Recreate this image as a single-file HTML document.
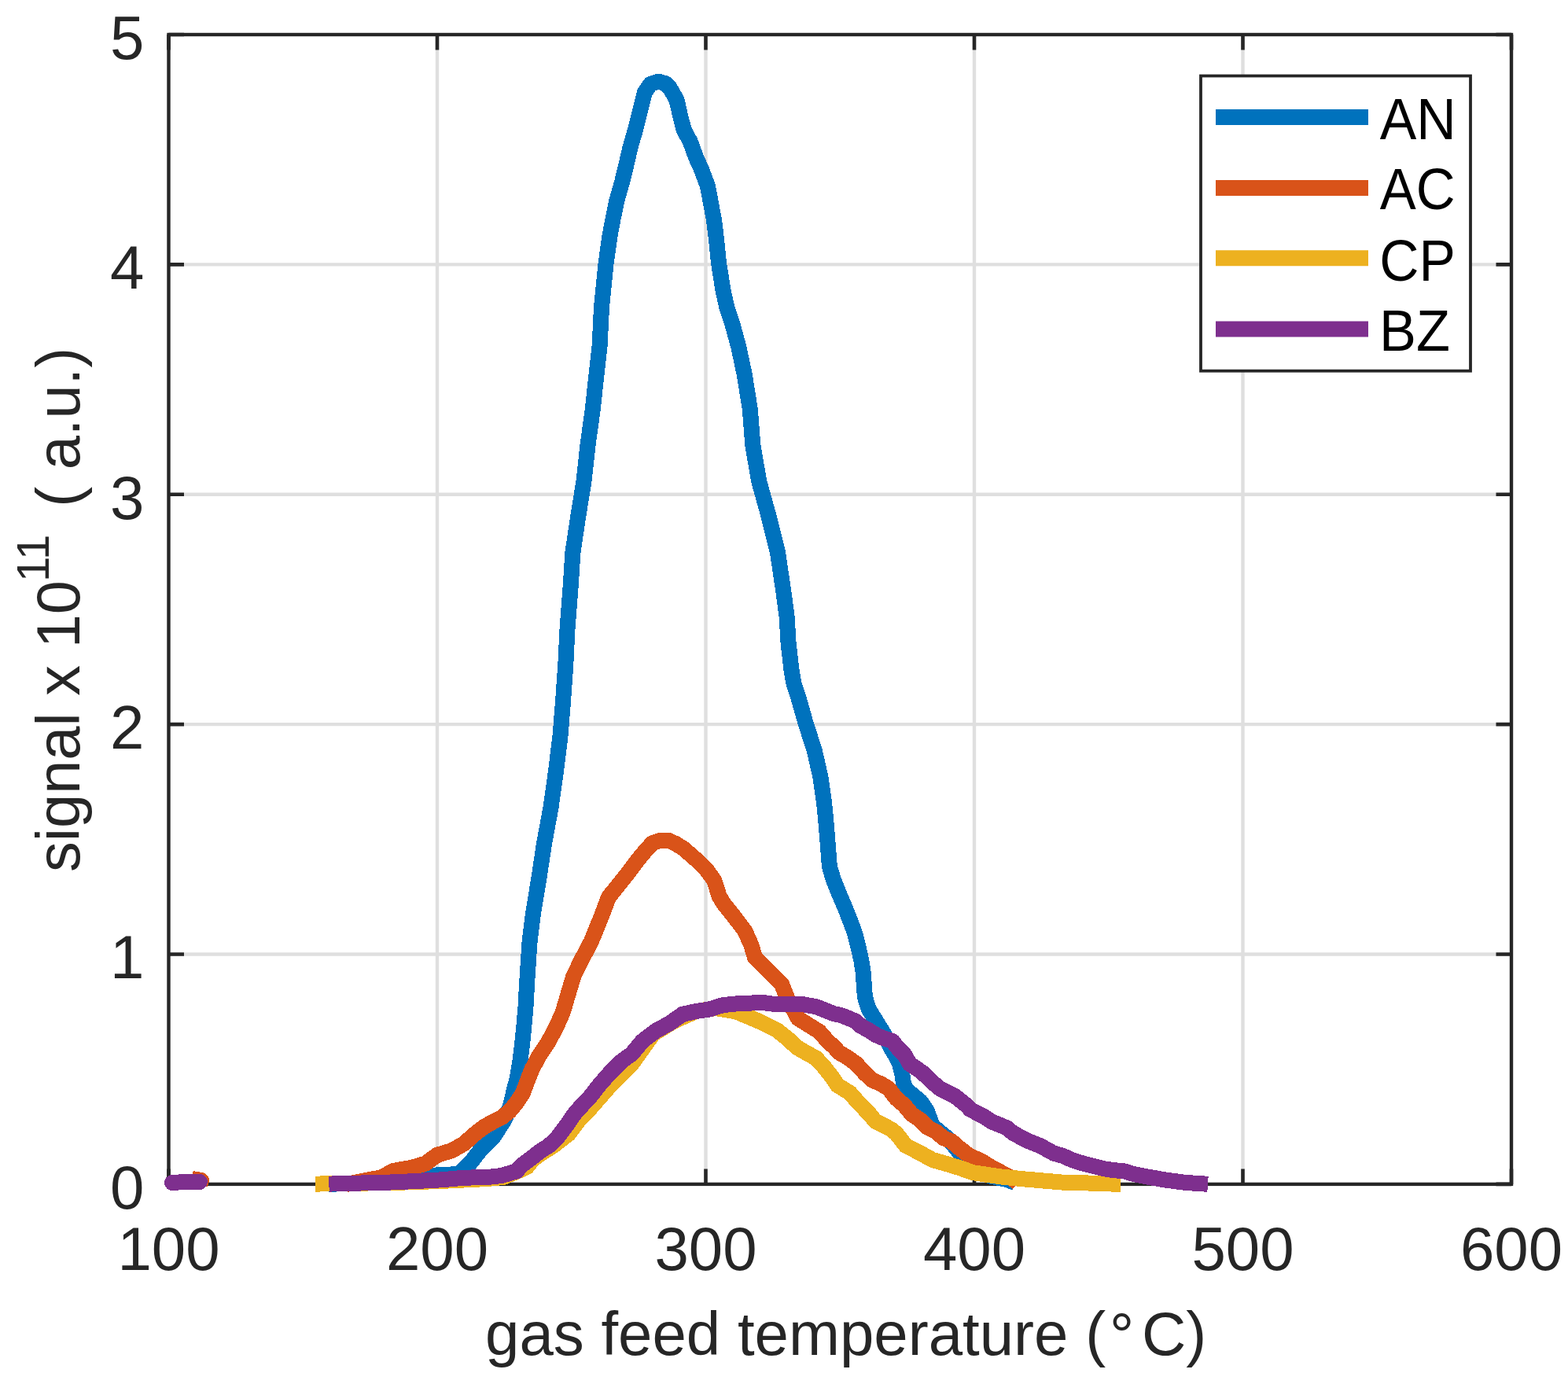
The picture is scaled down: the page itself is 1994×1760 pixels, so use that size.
<!DOCTYPE html>
<html><head><meta charset="utf-8"><title>signal vs gas feed temperature</title>
<style>
html,body{margin:0;padding:0;background:#fff;}
body{width:1994px;height:1760px;overflow:hidden;}
svg{display:block;}
text{font-family:"Liberation Sans",Arial,Helvetica,sans-serif;}
</style></head><body>
<svg width="1994" height="1760" viewBox="0 0 1994 1760">
<rect x="0" y="0" width="1994" height="1760" fill="#fff"/>

<g stroke="#dfdfdf" stroke-width="4.4" fill="none"><line x1="556.0" y1="44.0" x2="556.0" y2="1505.9"/><line x1="897.5" y1="44.0" x2="897.5" y2="1505.9"/><line x1="1239.0" y1="44.0" x2="1239.0" y2="1505.9"/><line x1="1580.5" y1="44.0" x2="1580.5" y2="1505.9"/><line x1="214.5" y1="1213.5" x2="1922.0" y2="1213.5"/><line x1="214.5" y1="921.1" x2="1922.0" y2="921.1"/><line x1="214.5" y1="628.8" x2="1922.0" y2="628.8"/><line x1="214.5" y1="336.4" x2="1922.0" y2="336.4"/></g>
<path d="M214.5 1505.9V1486.4M214.5 44.0V63.5M556.0 1505.9V1486.4M556.0 44.0V63.5M897.5 1505.9V1486.4M897.5 44.0V63.5M1239.0 1505.9V1486.4M1239.0 44.0V63.5M1580.5 1505.9V1486.4M1580.5 44.0V63.5M1922.0 1505.9V1486.4M1922.0 44.0V63.5M214.5 1505.9H234.0M1922.0 1505.9H1902.5M214.5 1213.5H234.0M1922.0 1213.5H1902.5M214.5 921.1H234.0M1922.0 921.1H1902.5M214.5 628.8H234.0M1922.0 628.8H1902.5M214.5 336.4H234.0M1922.0 336.4H1902.5M214.5 44.0H234.0M1922.0 44.0H1902.5" stroke="#262626" stroke-width="4.6" fill="none"/>
<rect x="214.5" y="44.0" width="1707.5" height="1461.9" fill="none" stroke="#262626" stroke-width="4.4"/>
<g shape-rendering="crispEdges">
<polyline points="418.0,1506.0 480.0,1503.0 545.0,1495.0 583.0,1493.0 598.0,1479.0 609.0,1465.0 619.0,1454.0 628.0,1445.0 641.0,1425.0 648.6,1408.0 653.4,1388.0 658.0,1370.0 661.3,1350.0 664.4,1325.0 666.8,1300.0 668.5,1280.0 669.6,1260.0 670.7,1241.0 673.5,1198.0 677.7,1163.6 685.2,1118.0 692.0,1073.0 700.5,1027.0 706.8,982.0 712.5,936.0 716.1,891.0 719.3,845.5 721.5,800.0 725.5,748.0 728.4,702.7 735.2,657.0 742.5,612.0 747.5,566.0 753.7,521.0 758.6,475.5 762.6,440.0 765.0,391.0 770.7,334.0 775.5,300.0 779.8,277.0 784.5,254.5 791.0,231.8 796.6,209.0 801.8,186.4 808.4,163.6 814.0,141.0 819.8,118.0 827.0,107.0 837.5,103.7 846.0,106.0 852.0,112.0 860.5,127.0 865.7,150.0 869.7,165.0 877.7,180.0 885.0,200.0 892.3,216.0 900.0,237.0 904.5,261.0 908.0,280.0 910.5,300.0 914.0,334.0 919.3,368.0 924.3,391.0 931.8,413.6 939.0,440.0 946.6,475.5 953.9,521.0 957.3,566.0 965.2,612.0 977.7,657.0 989.0,702.7 996.0,750.0 1000.6,784.0 1002.6,818.0 1006.5,852.0 1009.4,869.0 1015.0,886.0 1024.8,920.4 1035.8,954.5 1043.5,988.6 1048.3,1022.7 1050.8,1050.0 1052.3,1068.0 1054.9,1102.0 1060.0,1119.0 1066.8,1136.0 1074.1,1153.0 1081.0,1170.4 1087.3,1187.5 1091.5,1204.5 1095.4,1221.6 1098.0,1238.6 1098.9,1255.7 1099.2,1260.0 1100.5,1270.0 1104.6,1283.0 1115.0,1300.0 1125.0,1316.0 1132.0,1331.0 1138.0,1341.0 1144.0,1353.0 1147.3,1366.0 1149.0,1378.0 1152.6,1385.7 1170.6,1400.7 1178.7,1412.5 1186.0,1432.0 1207.2,1449.3 1218.0,1463.0 1228.0,1476.0 1245.0,1489.0 1259.0,1495.5 1280.0,1500.0 1291.0,1504.0" fill="none" stroke="#0072BD" stroke-width="20" stroke-linejoin="round" stroke-linecap="butt"/>
<polyline points="440.0,1506.0 485.3,1497.2 500.0,1489.0 525.0,1484.5 541.0,1479.7 556.0,1468.8 575.0,1463.0 590.0,1454.4 604.0,1442.0 615.0,1433.4 626.0,1427.0 638.0,1421.0 648.0,1413.0 656.0,1403.5 664.9,1390.0 670.5,1375.0 676.4,1360.0 685.4,1343.0 697.3,1325.0 707.4,1306.0 715.7,1287.3 722.7,1263.6 729.5,1241.0 740.9,1218.0 751.5,1198.0 765.5,1163.6 773.9,1141.0 790.0,1121.0 800.0,1108.4 810.0,1095.0 820.0,1082.7 830.0,1071.9 840.0,1068.7 850.0,1068.7 860.0,1073.3 870.0,1079.7 880.0,1088.5 890.0,1097.2 900.0,1108.0 908.4,1120.0 914.7,1140.0 921.0,1150.0 934.6,1167.0 947.4,1184.0 955.0,1201.0 960.2,1218.0 977.3,1235.0 994.3,1252.0 1001.0,1269.0 1014.8,1295.0 1042.0,1312.0 1053.4,1325.0 1060.0,1330.6 1067.0,1338.4 1077.0,1344.3 1089.0,1352.8 1100.0,1365.0 1110.0,1374.0 1120.0,1378.2 1130.0,1384.2 1140.0,1397.0 1150.0,1405.5 1160.0,1417.5 1170.0,1424.0 1180.0,1434.0 1190.0,1439.0 1200.0,1447.3 1210.0,1451.3 1220.0,1460.0 1233.0,1470.0 1247.0,1476.0 1260.0,1484.0 1275.0,1492.0 1286.0,1498.0 1294.0,1504.0" fill="none" stroke="#D95319" stroke-width="20" stroke-linejoin="round" stroke-linecap="butt"/>
<polyline points="244.0,1499.0 256.0,1501.0 254.0,1506.0" fill="none" stroke="#D95319" stroke-width="20" stroke-linejoin="round" stroke-linecap="butt"/>
<polyline points="401.0,1505.6 500.0,1504.0 560.0,1502.0 620.0,1499.0 640.0,1497.0 657.0,1490.0 670.0,1484.0 678.0,1474.0 688.0,1467.0 705.0,1456.0 723.0,1442.0 738.0,1422.0 749.0,1411.3 776.3,1380.0 803.6,1352.7 830.9,1314.5 858.1,1298.0 885.4,1286.0 910.0,1282.0 936.0,1286.4 953.0,1293.5 966.0,1299.0 988.0,1310.0 1003.6,1322.5 1012.7,1331.5 1020.0,1335.8 1038.0,1345.8 1049.0,1358.0 1058.0,1369.6 1065.0,1380.0 1081.0,1390.0 1092.0,1402.7 1106.0,1417.0 1113.0,1425.6 1133.0,1436.0 1140.0,1441.6 1152.0,1457.0 1169.0,1465.6 1186.0,1475.0 1203.4,1480.0 1220.4,1485.2 1237.5,1491.2 1271.6,1496.3 1305.7,1499.7 1350.0,1503.5 1400.0,1505.0 1425.0,1506.0" fill="none" stroke="#EDB120" stroke-width="20" stroke-linejoin="round" stroke-linecap="butt"/>
<polyline points="418.4,1505.6 500.4,1503.4 560.5,1500.4 591.0,1497.7 620.7,1497.0 638.0,1495.0 657.0,1489.3 663.0,1482.4 673.0,1474.8 688.0,1463.3 698.0,1457.0 709.0,1446.5 720.0,1431.8 732.0,1414.4 750.0,1395.3 762.0,1380.0 776.3,1363.6 790.0,1350.0 803.6,1340.0 817.0,1323.9 834.0,1311.0 851.0,1301.7 868.0,1289.8 885.4,1286.0 902.0,1283.5 919.0,1278.2 936.0,1276.5 953.0,1275.6 970.4,1275.0 987.5,1277.3 1004.5,1276.5 1021.6,1277.3 1038.6,1280.4 1050.0,1285.0 1060.0,1289.0 1070.0,1291.2 1080.0,1295.2 1088.6,1298.9 1095.0,1305.0 1105.0,1310.2 1114.5,1316.5 1125.0,1320.8 1135.0,1324.0 1142.0,1333.0 1150.0,1341.0 1157.0,1353.0 1166.0,1359.0 1173.0,1364.0 1187.0,1377.4 1196.0,1384.8 1214.5,1394.1 1229.0,1405.6 1234.0,1411.0 1251.0,1419.7 1262.0,1426.8 1280.0,1434.1 1288.6,1441.0 1305.7,1450.3 1322.7,1457.0 1339.8,1466.5 1352.0,1470.0 1365.0,1475.8 1378.0,1479.8 1391.0,1483.0 1404.0,1486.3 1417.0,1488.2 1430.0,1489.5 1443.0,1493.4 1456.5,1496.0 1482.5,1500.6 1508.6,1504.0 1536.0,1505.8" fill="none" stroke="#7E2F8E" stroke-width="20" stroke-linejoin="round" stroke-linecap="butt"/>
<polyline points="219.0,1504.0 235.0,1503.0 254.0,1503.0" fill="none" stroke="#7E2F8E" stroke-width="20" stroke-linejoin="round" stroke-linecap="round"/>
</g>
<g fill="#262626" font-size="78"><text x="214.5" y="1615" text-anchor="middle">100</text><text x="556.0" y="1615" text-anchor="middle">200</text><text x="897.5" y="1615" text-anchor="middle">300</text><text x="1239.0" y="1615" text-anchor="middle">400</text><text x="1580.5" y="1615" text-anchor="middle">500</text><text x="1922.0" y="1615" text-anchor="middle">600</text><text x="183.5" y="1536.7" text-anchor="end">0</text><text x="183.5" y="1244.3" text-anchor="end">1</text><text x="183.5" y="951.9" text-anchor="end">2</text><text x="183.5" y="659.6" text-anchor="end">3</text><text x="183.5" y="367.2" text-anchor="end">4</text><text x="183.5" y="74.8" text-anchor="end">5</text></g>
<g fill="#262626" font-size="78"><text x="617" y="1722.7">gas feed temperature (</text><text x="1411" y="1725">°</text><text x="1452" y="1722.7">C)</text></g>
<g fill="#262626" transform="rotate(-90)"><text x="-1109" y="100.7" font-size="77.6">signal x 10</text><text x="-740" y="62" font-size="58">11</text><text x="-644.7" y="100.7" font-size="77.6">( a.u.)</text></g>
<rect x="1527" y="96.5" width="343" height="375.2" fill="#fff" stroke="#262626" stroke-width="3.8"/>
<line x1="1546" y1="148.9" x2="1740" y2="148.9" stroke="#0072BD" stroke-width="20"/><text x="1754.8" y="176.8" font-size="74" fill="#000" textLength="97.0" lengthAdjust="spacingAndGlyphs">AN</text><line x1="1546" y1="238.9" x2="1740" y2="238.9" stroke="#D95319" stroke-width="20"/><text x="1754.7" y="266.4" font-size="74" fill="#000" textLength="95.8" lengthAdjust="spacingAndGlyphs">AC</text><line x1="1546" y1="328.3" x2="1740" y2="328.3" stroke="#EDB120" stroke-width="20"/><text x="1754.2" y="356.8" font-size="74" fill="#000" textLength="96.6" lengthAdjust="spacingAndGlyphs">CP</text><line x1="1546" y1="418.4" x2="1740" y2="418.4" stroke="#7E2F8E" stroke-width="20"/><text x="1754.1" y="446.3" font-size="74" fill="#000" textLength="89.9" lengthAdjust="spacingAndGlyphs">BZ</text>
</svg></body></html>
